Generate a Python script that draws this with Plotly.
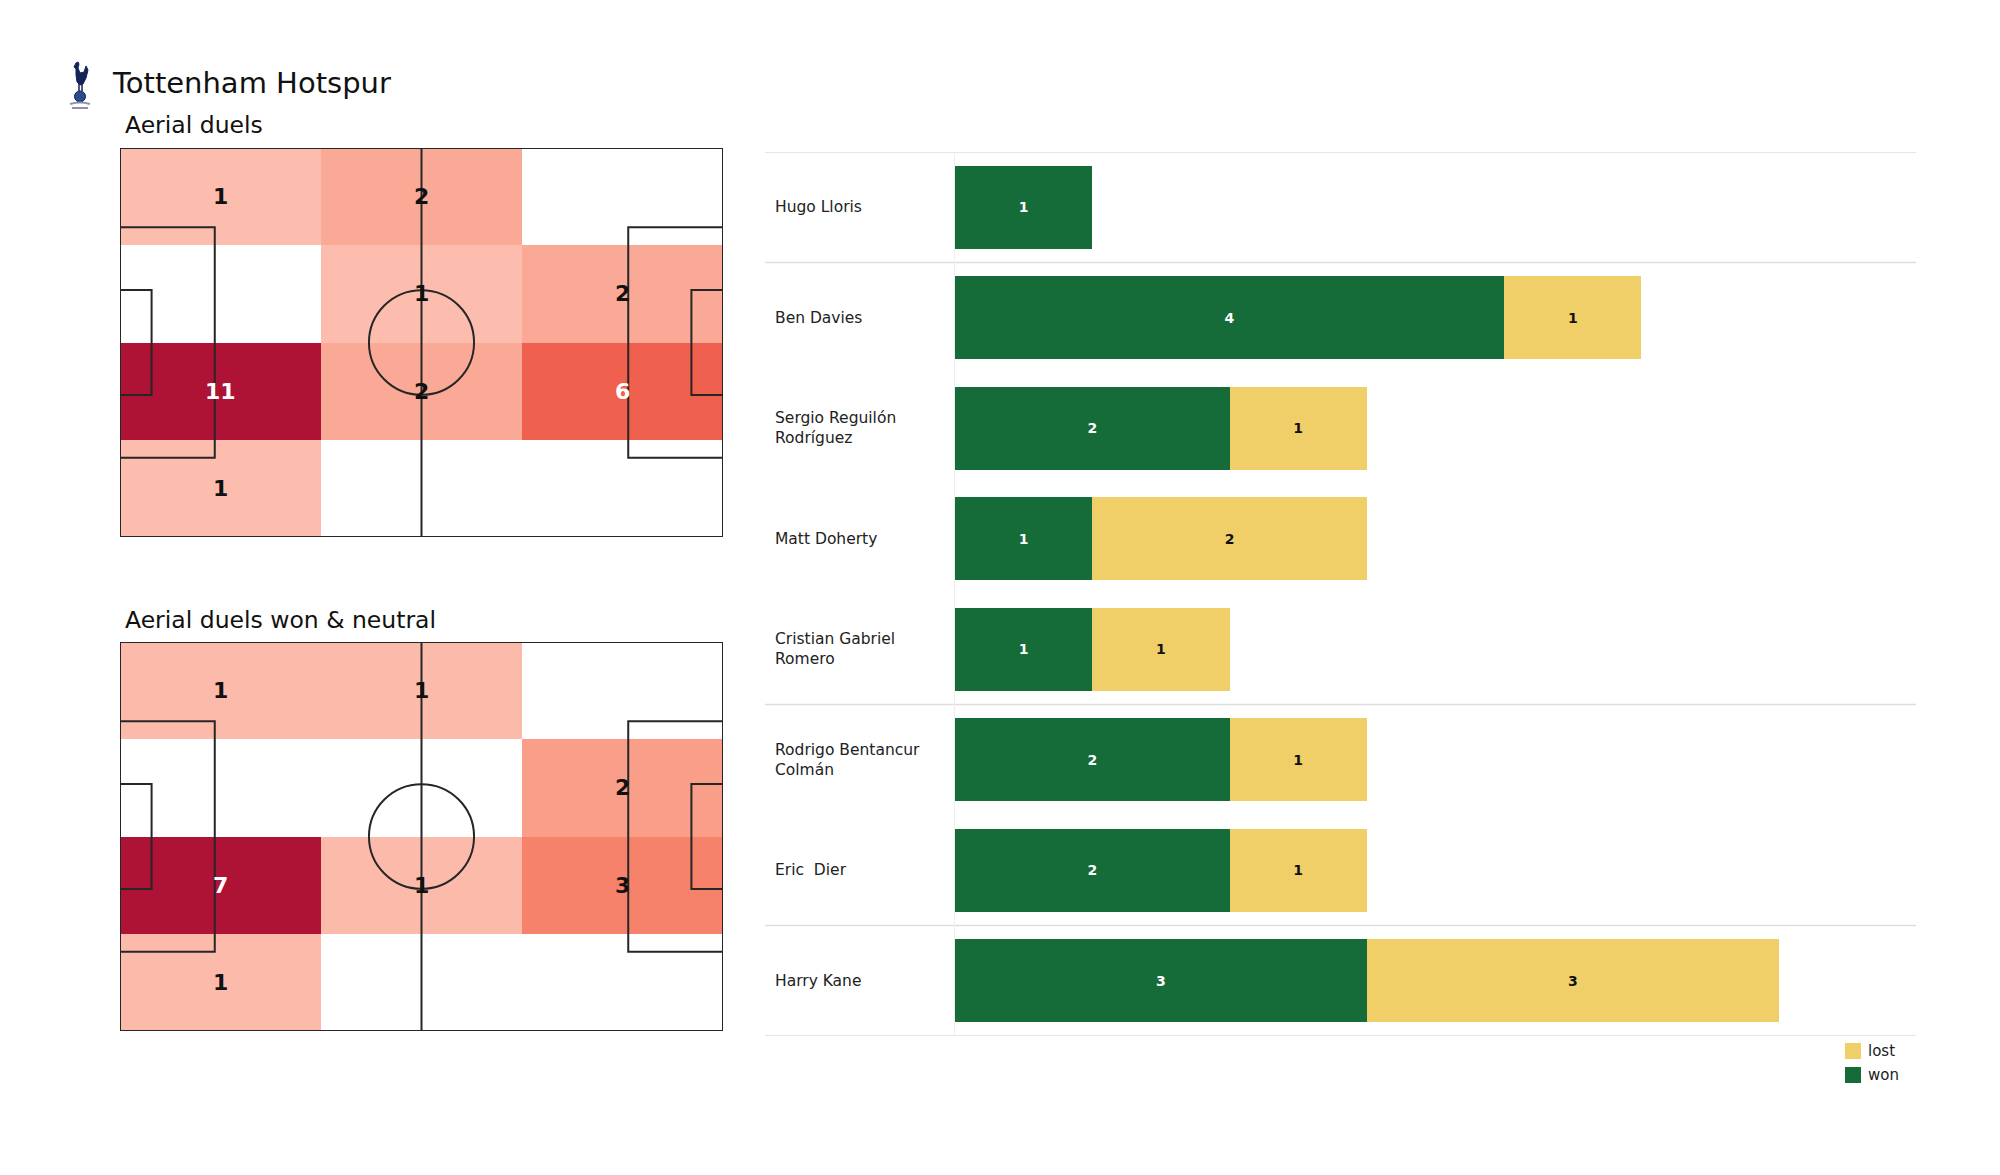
import plotly.graph_objects as go

W, H = 2000, 1175
OFF = 8  # page body margin


def px(x):
    return (x - OFF) / W


def py(y):
    return 1 - (y - OFF) / H


# ---------------- data ----------------
team = "Tottenham Hotspur"
title_all = "Aerial duels"
title_won = "Aerial duels won & neutral"

players = ["Hugo Lloris", "Ben Davies", "Sergio Reguilón<br>Rodríguez", "Matt Doherty",
           "Cristian Gabriel<br>Romero", "Rodrigo Bentancur<br>Colmán", "Eric  Dier", "Harry Kane"]
positions = ["GK", "DF", "DF", "DF", "DF", "MF", "MF", "FW"]
won = [1, 4, 2, 1, 1, 2, 2, 3]
lost = [0, 1, 1, 2, 1, 1, 1, 3]

# pitch zones (105 x 68 pitch, 3 columns x 4 rows), rows listed top to bottom
zone_x = [17.5, 52.5, 87.5]
zone_y = [8.5, 25.5, 42.5, 59.5]
duels_all = [[1, 2, 0],
             [0, 1, 2],
             [11, 2, 6],
             [1, 0, 0]]
duels_won = [[1, 1, 0],
             [0, 0, 2],
             [7, 1, 3],
             [1, 0, 0]]

GREEN = "#166c38"
YELLOW = "#f0cf69"
FONT = "DejaVu Sans"

reds = [[0.0, "rgb(253,200,186)"], [0.09, "rgb(252,189,174)"], [0.15, "rgb(252,186,170)"],
        [0.18, "rgb(251,169,151)"], [0.29, "rgb(249,158,136)"], [0.43, "rgb(247,130,108)"],
        [0.545, "rgb(239,96,78)"], [1.0, "rgb(174,18,52)"]]

fig = go.Figure()
annotations = []
shapes = []


def add_pitch(z, xa, ya):
    zmax = max(max(r) for r in z)
    zz = [[v if v else None for v in row] for row in z]
    fig.add_trace(go.Heatmap(x=zone_x, y=zone_y, z=zz, colorscale=reds, zmin=0, zmax=zmax,
                             showscale=False, hoverinfo="skip", xaxis=xa, yaxis=ya,
                             showlegend=False))
    xr, yr = xa, ya
    lc = dict(color="#262626", width=2)
    L, Wd = 105, 68
    shapes.append(dict(type="rect", xref=xr, yref=yr, x0=0, x1=L, y0=0, y1=Wd, line=lc, layer="above"))
    shapes.append(dict(type="line", xref=xr, yref=yr, x0=L / 2, x1=L / 2, y0=0, y1=Wd, line=lc, layer="above"))
    for x0, x1 in [(0, 16.5), (L - 16.5, L)]:
        shapes.append(dict(type="rect", xref=xr, yref=yr, x0=x0, x1=x1, y0=Wd / 2 - 20.16,
                           y1=Wd / 2 + 20.16, line=lc, layer="above"))
    for x0, x1 in [(0, 5.5), (L - 5.5, L)]:
        shapes.append(dict(type="rect", xref=xr, yref=yr, x0=x0, x1=x1, y0=Wd / 2 - 9.16,
                           y1=Wd / 2 + 9.16, line=lc, layer="above"))
    shapes.append(dict(type="circle", xref=xr, yref=yr, x0=L / 2 - 9.15, x1=L / 2 + 9.15,
                       y0=Wd / 2 - 9.15, y1=Wd / 2 + 9.15, line=lc, layer="above"))
    for i, row in enumerate(z):
        for j, v in enumerate(row):
            if v:
                annotations.append(dict(x=zone_x[j], y=zone_y[i], xref=xr, yref=yr, text=f"<b>{v}</b>",
                                        showarrow=False,
                                        font=dict(family=FONT, size=22,
                                                  color="white" if v / zmax > 0.5 else "#111111")))


add_pitch(duels_all, "x", "y")
add_pitch(duels_won, "x2", "y2")

# ---------------- bars ----------------
bar_common = dict(orientation="h", width=0.75, texttemplate="<b>%{x}</b>", textposition="inside",
                  insidetextanchor="middle", textangle=0, constraintext="none",
                  xaxis="x3", yaxis="y3", hoverinfo="skip", showlegend=False)
fig.add_trace(go.Bar(y=players, x=won, name="won", marker=dict(color=GREEN, line=dict(width=0)),
                     textfont=dict(family=FONT, size=14, color="white"), **bar_common))
fig.add_trace(go.Bar(y=players, x=[v if v else None for v in lost], name="lost",
                     marker=dict(color=YELLOW, line=dict(width=0)),
                     textfont=dict(family=FONT, size=14, color="#111111"), **bar_common))

for p in players:
    annotations.append(dict(x=px(773), xref="paper", y=p, yref="y3", text=p, showarrow=False,
                            xanchor="left", align="left", font=dict(family=FONT, size=15.5, color="#222222")))

bounds = [-0.5] + [i - 0.5 for i in range(1, len(positions)) if positions[i] != positions[i - 1]] + [len(positions) - 0.5]
for b in bounds:
    shapes.append(dict(type="line", xref="paper", yref="y3", x0=px(765), x1=px(1916), y0=b, y1=b,
                       line=dict(color="#dddddd", width=1.5), layer="below"))

# manual legend (lost on top, won below)
for k, (name, col) in enumerate([("lost", YELLOW), ("won", GREEN)]):
    yc = 1051 + 24 * k
    shapes.append(dict(type="rect", xref="paper", yref="paper", x0=px(1845), x1=px(1861),
                       y0=py(yc + 8), y1=py(yc - 8), fillcolor=col, line=dict(width=0)))
    annotations.append(dict(x=px(1866), y=py(yc), xref="paper", yref="paper", text=name, showarrow=False,
                            xanchor="left", yanchor="middle", font=dict(family=FONT, size=15, color="#222222")))

# ---------------- titles ----------------
annotations.append(dict(x=px(110), y=py(83), xref="paper", yref="paper", text=team, showarrow=False,
                        xanchor="left", yanchor="middle", font=dict(family=FONT, size=29, color="#111111")))
annotations.append(dict(x=px(123), y=py(125), xref="paper", yref="paper", text=title_all, showarrow=False,
                        xanchor="left", yanchor="middle", font=dict(family=FONT, size=23.5, color="#111111")))
annotations.append(dict(x=px(123), y=py(620), xref="paper", yref="paper", text=title_won, showarrow=False,
                        xanchor="left", yanchor="middle", font=dict(family=FONT, size=23.5, color="#111111")))

# ---------------- simplified crest ----------------
navy = "#132257"


def P(x, y):
    return f"{px(x):.5f},{py(y):.5f}"


shapes.append(dict(type="circle", xref="paper", yref="paper", x0=px(74.5), x1=px(85.5), y0=py(102), y1=py(91),
                   fillcolor="#2d4a8a", line=dict(color=navy, width=1)))
shapes.append(dict(type="path", xref="paper", yref="paper",
                   path="M " + " L ".join([P(74, 67), P(76, 63), P(78, 62), P(79, 64), P(78, 68), P(80, 73),
                                           P(84, 72), P(86, 66), P(88, 70), P(86, 78), P(83, 84), P(80, 85),
                                           P(77, 82), P(76, 75), P(76, 69)]) + " Z",
                   fillcolor=navy, line=dict(color=navy, width=1)))
shapes.append(dict(type="line", xref="paper", yref="paper", x0=px(79), x1=px(79), y0=py(84), y1=py(91),
                   line=dict(color=navy, width=1.5)))
shapes.append(dict(type="line", xref="paper", yref="paper", x0=px(82), x1=px(82), y0=py(84), y1=py(91),
                   line=dict(color=navy, width=1.5)))
shapes.append(dict(type="path", xref="paper", yref="paper",
                   path=f"M {P(70, 104)} Q {P(80, 101)} {P(90, 104)}",
                   line=dict(color="#8a93ad", width=2)))
shapes.append(dict(type="line", xref="paper", yref="paper", x0=px(72), x1=px(88), y0=py(108), y1=py(108),
                   line=dict(color="#8a93ad", width=2)))

axis_off = dict(visible=False, fixedrange=True)
fig.update_layout(
    width=W, height=H, margin=dict(l=0, r=0, t=0, b=0),
    paper_bgcolor="white", plot_bgcolor="rgba(0,0,0,0)",
    font=dict(family=FONT, color="#111111"),
    barmode="stack", bargap=0.25, showlegend=False,
    xaxis=dict(domain=[px(120), px(723)], range=[0, 105], anchor="y", **axis_off),
    yaxis=dict(domain=[py(537), py(148)], range=[68, 0], anchor="x", **axis_off),
    xaxis2=dict(domain=[px(120), px(723)], range=[0, 105], anchor="y2", **axis_off),
    yaxis2=dict(domain=[py(1031), py(642)], range=[68, 0], anchor="x2", **axis_off),
    xaxis3=dict(domain=[px(955), px(1916)], range=[0, 7], anchor="y3", showticklabels=False,
                showgrid=False, zeroline=False, fixedrange=True),
    yaxis3=dict(domain=[py(1036), py(152)], type="category", categoryorder="array", categoryarray=players,
                range=[len(players) - 0.5, -0.5], anchor="x3", showticklabels=False, showgrid=False,
                zeroline=False, showline=True, linecolor="#eeeeee", linewidth=1, ticks="", fixedrange=True),
    annotations=annotations, shapes=shapes,
)

fig.write_html("out.html")
